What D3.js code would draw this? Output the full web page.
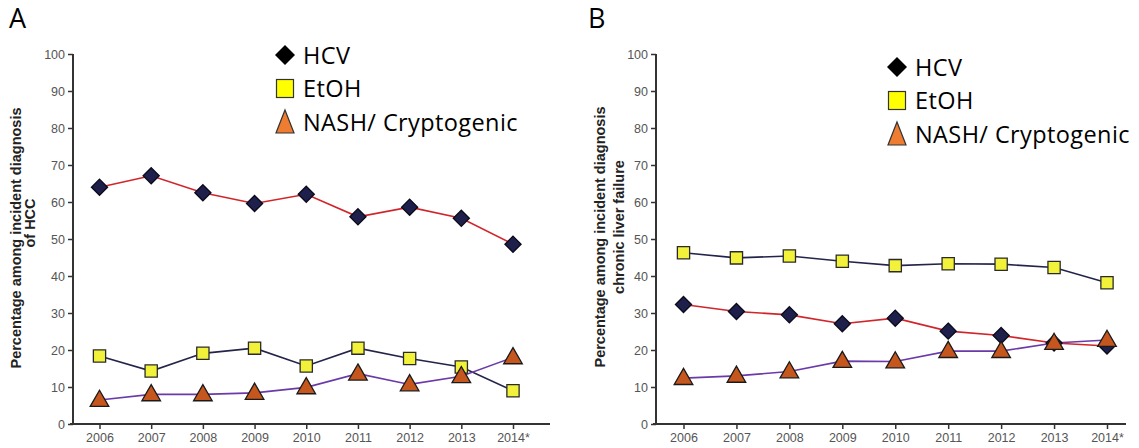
<!DOCTYPE html>
<html><head><meta charset="utf-8">
<script src="https://cdn.jsdelivr.net/npm/d3@7"></script>
<style>
html,body{margin:0;padding:0;background:#fff;}
svg{display:block;}
</style></head>
<body>
<svg id="chart" width="1139" height="448"></svg>
<script>
const years = ["2006","2007","2008","2009","2010","2011","2012","2013","2014*"];
const yTicks = [0,10,20,30,40,50,60,70,80,90,100];
const seriesNames = ["HCV","EtOH","NASH/ Cryptogenic"];

const hccHCV  = [64.0,67.1,62.5,59.6,62.1,56.0,58.6,55.6,48.6];
const hccEtOH = [18.4,14.3,19.1,20.5,15.7,20.5,17.7,15.4,9.0];
const hccNASH = [6.5,8.0,8.0,8.4,9.9,13.6,10.7,12.9,18.0];

const clfHCV  = [32.3,30.4,29.5,27.1,28.6,25.1,23.9,21.9,21.1];
const clfEtOH = [46.3,44.9,45.4,44.0,42.8,43.3,43.2,42.3,38.2];
const clfNASH = [12.4,13.0,14.2,17.0,16.9,19.7,19.7,21.9,22.7];

const svg = d3.select("#chart");

const diamond = {draw(ctx, size){ const r=Math.sqrt(size/2); ctx.moveTo(0,-r); ctx.lineTo(r,0); ctx.lineTo(0,r); ctx.lineTo(-r,0); ctx.closePath(); }};
const styles = {
  HCV:  {line:"#d0262b", fill:"#1e1f4b", stroke:"#0a0a1a", shape:diamond, size:130, legFill:"#000"},
  EtOH: {line:"#24244a", fill:"#f2f23a", stroke:"#2a2a2a", shape:d3.symbolSquare, size:150, legFill:"#ffff00"},
  NASH: {line:"#6a3aa8", fill:"#c4561e", stroke:"#1a1a1a", shape:d3.symbolTriangle, size:150, legFill:"#ee7d31"}
};

function panel(opts){
  const g = svg.append("g");
  const x = d3.scalePoint().domain(years).range([opts.x0, opts.x1]);
  const y = d3.scaleLinear().domain([0,100]).range([424,54]);

  const ya = g.append("g").attr("transform",`translate(${opts.axX},0)`)
    .call(d3.axisLeft(y).tickValues(yTicks).tickSize(5).tickPadding(3));
  ya.select(".domain").attr("stroke","#333").attr("stroke-width",2).attr("d",`M0,${y(100)}V${y(0)}`);
  ya.selectAll(".tick line").attr("stroke","#333").attr("stroke-width",1.5);
  ya.selectAll(".tick text").attr("fill","#555").style("font-family","Liberation Sans, Arial, sans-serif").style("font-size","12.5px");

  const xa = g.append("g").attr("transform",`translate(0,424)`)
    .call(d3.axisBottom(x).tickSize(5).tickPadding(4));
  xa.select(".domain").attr("stroke","#333").attr("stroke-width",2).attr("d",`M${opts.axX-3},0H${opts.axEnd}`);
  xa.selectAll(".tick line").attr("stroke","#333").attr("stroke-width",1.5);
  xa.selectAll(".tick text").attr("fill","#555").style("font-family","Liberation Sans, Arial, sans-serif").style("font-size","12.5px");

  opts.ylab.forEach((t,i)=>{
    g.append("text")
      .attr("transform",`translate(${opts.ylabX[i]},${opts.ylabY[i]}) rotate(-90)`)
      .attr("text-anchor","middle")
      .style("font-family","Liberation Sans, Arial, sans-serif")
      .style("font-weight","bold").style("font-size","14.5px").attr("fill","#222")
      .text(t);
  });

  const series = [
    {key:"HCV", vals:opts.hcv},
    {key:"EtOH", vals:opts.etoh},
    {key:"NASH", vals:opts.nash}
  ];
  const line = d3.line().x((d,i)=>x(years[i])).y(d=>y(d));
  series.forEach(s=>{
    g.append("path").datum(s.vals).attr("d",line)
      .attr("fill","none").attr("stroke",styles[s.key].line).attr("stroke-width",1.6);
  });
  series.forEach(s=>{
    const st = styles[s.key];
    g.selectAll(null).data(s.vals).enter().append("path")
      .attr("transform",(d,i)=>`translate(${x(years[i])},${y(d) + (s.key==="NASH"?1:0)})`)
      .attr("d",d3.symbol().type(st.shape).size(st.size))
      .attr("fill",st.fill).attr("stroke",st.stroke).attr("stroke-width",1.3);
  });

  const keys = ["HCV","EtOH","NASH"];
  keys.forEach((k,i)=>{
    const st = styles[k];
    const cy = opts.legY + i*opts.legDy;
    let sym;
    if(k==="HCV") sym = g.append("path").attr("d","M0,-10L10,0L0,10L-10,0Z").attr("fill","#000");
    if(k==="EtOH") sym = g.append("rect").attr("x",-8.5).attr("y",-9).attr("width",17).attr("height",18).attr("fill",st.legFill).attr("stroke","#333").attr("stroke-width",1.2);
    if(k==="NASH") sym = g.append("path").attr("d","M0,-12L9,11L-9,11Z").attr("fill",st.legFill).attr("stroke","#333").attr("stroke-width",1.2);
    sym.attr("transform",`translate(${opts.legX},${cy})`);
    g.append("text").attr("x",opts.legX+18).attr("y",cy+8.5)
      .style("font-family","Open Sans, sans-serif").style("font-size","23.5px").style("letter-spacing","0.4px").attr("fill","#000")
      .text(seriesNames[i]);
  });

  g.append("text").attr("x",opts.panX).attr("y",28)
    .style("font-family","Open Sans, sans-serif").style("font-size","27px").attr("fill","#000")
    .text(opts.panel);
}

panel({panel:"A", panX:9, x0:99.5, x1:513, axX:73, axEnd:550,
  hcv:hccHCV, etoh:hccEtOH, nash:hccNASH,
  ylab:["Percentage among incident diagnosis","of HCC"], ylabX:[21,35], ylabY:[238,223],
  legX:285, legY:55, legDy:33.5});

panel({panel:"B", panX:588, x0:683.5, x1:1107, axX:656, axEnd:1126,
  hcv:clfHCV, etoh:clfEtOH, nash:clfNASH,
  ylab:["Percentage among incident diagnosis","chronic liver failure"], ylabX:[605,624], ylabY:[237,227],
  legX:897, legY:67, legDy:33.5});
</script>
</body></html>
